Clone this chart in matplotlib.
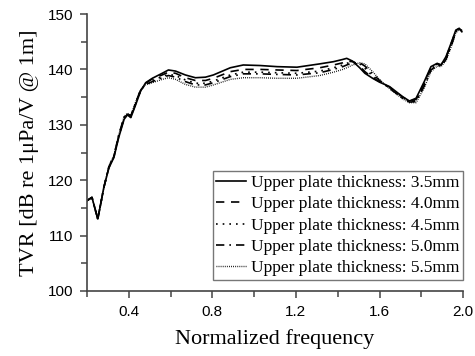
import matplotlib
matplotlib.use("Agg")
import matplotlib.pyplot as plt
from matplotlib.ticker import MultipleLocator

freq = [0.20, 0.224, 0.252, 0.281, 0.305, 0.329, 0.352, 0.378, 0.394, 0.41, 0.433, 0.457,
        0.481, 0.513, 0.56, 0.59, 0.624, 0.671, 0.719, 0.767, 0.805, 0.886, 0.948, 1.03,
        1.11, 1.205, 1.314, 1.38, 1.424, 1.443, 1.471, 1.505, 1.53, 1.567, 1.60, 1.648,
        1.71, 1.743, 1.775, 1.814, 1.846, 1.876, 1.894, 1.918, 1.948, 1.965, 1.981, 1.994]

tvr_35 = [116.3, 116.9, 113.0, 118.7, 122.2, 124.1, 127.7, 131.0, 131.8, 131.3, 133.6, 136.1,
          137.6, 138.4, 139.3, 139.9, 139.7, 139.0, 138.5, 138.6, 139.0, 140.3, 140.8, 140.7,
          140.5, 140.4, 141.0, 141.4, 141.8, 142.0, 141.5, 140.3, 139.3, 138.4, 137.7, 136.9,
          135.1, 134.3, 134.8, 137.8, 140.5, 141.1, 140.8, 142.3, 145.3, 147.1, 147.4, 146.8]
tvr_40 = [116.3, 116.9, 113.0, 118.7, 122.3, 124.2, 127.9, 131.2, 131.9, 131.4, 133.8, 136.2,
          137.5, 138.3, 139.0, 139.5, 139.3, 138.5, 138.0, 138.0, 138.4, 139.6, 140.0, 140.0,
          139.9, 139.8, 140.3, 140.8, 141.2, 141.5, 141.4, 140.6, 139.6, 138.5, 137.8, 136.8,
          135.0, 134.3, 134.6, 137.5, 140.3, 141.0, 140.8, 142.1, 145.2, 147.0, 147.4, 146.9]
tvr_45 = [116.3, 116.9, 113.0, 118.7, 122.4, 124.3, 128.0, 131.3, 132.0, 131.5, 133.9, 136.2,
          137.4, 138.0, 138.7, 139.1, 138.9, 138.1, 137.5, 137.5, 137.9, 139.0, 139.5, 139.5,
          139.4, 139.3, 139.7, 140.3, 140.8, 141.1, 141.4, 141.0, 140.2, 138.8, 137.9, 136.7,
          134.9, 134.2, 134.4, 137.2, 140.1, 140.9, 140.7, 142.0, 145.0, 146.9, 147.3, 147.0]
tvr_50 = [116.3, 116.9, 113.0, 118.7, 122.4, 124.4, 128.1, 131.4, 132.0, 131.6, 134.0, 136.3,
          137.3, 137.8, 138.5, 138.9, 138.6, 137.8, 137.2, 137.2, 137.6, 138.7, 139.2, 139.2,
          139.1, 139.0, 139.4, 140.0, 140.5, 140.8, 141.2, 141.2, 140.6, 139.2, 138.0, 136.6,
          134.8, 134.1, 134.2, 137.0, 139.9, 140.8, 140.6, 141.8, 144.8, 146.8, 147.3, 147.0]
tvr_55 = [116.3, 116.9, 113.0, 118.7, 122.5, 124.5, 128.2, 131.5, 132.1, 131.7, 134.1, 136.3,
          137.2, 137.6, 138.2, 138.5, 138.2, 137.3, 136.8, 136.8, 137.2, 138.2, 138.5, 138.5,
          138.4, 138.4, 138.9, 139.5, 140.0, 140.3, 140.8, 141.2, 141.0, 139.6, 138.2, 136.5,
          134.7, 134.0, 134.0, 136.7, 139.6, 140.6, 140.5, 141.6, 144.6, 146.6, 147.2, 147.1]

labels = ["Upper plate thickness: 3.5mm", "Upper plate thickness: 4.0mm",
          "Upper plate thickness: 4.5mm", "Upper plate thickness: 5.0mm",
          "Upper plate thickness: 5.5mm"]
series = [tvr_35, tvr_40, tvr_45, tvr_50, tvr_55]
styles = [dict(ls="-", lw=1.2),
          dict(ls=(0, (5, 4)), lw=1.2),
          dict(ls=(0, (1, 3)), lw=1.2),
          dict(ls=(0, (5, 3, 1, 3)), lw=1.2),
          dict(ls=(0, (0.6, 0.9)), lw=1.0)]

fig = plt.figure(figsize=(4.75, 3.56), dpi=100)
ax = fig.add_axes([0.183, 0.1826, 0.792, 0.778])

for vals, lab, st in reversed(list(zip(series, labels, styles))):
    ax.plot(freq, vals, color="black", label=lab, **st)

ax.set_xlim(0.2, 2.0)
ax.set_ylim(100, 150)
ax.xaxis.set_major_locator(MultipleLocator(0.4))
ax.xaxis.set_minor_locator(MultipleLocator(0.2))
ax.yaxis.set_major_locator(MultipleLocator(10))
ax.yaxis.set_minor_locator(MultipleLocator(5))
ax.set_xticks([0.4, 0.8, 1.2, 1.6, 2.0])

for s in ["top", "right"]:
    ax.spines[s].set_visible(False)
for s in ["left", "bottom"]:
    ax.spines[s].set_color("#444444")
    ax.spines[s].set_linewidth(1.2)

ax.tick_params(which="major", direction="out", length=5, width=1.1, color="#444444",
               labelsize=11, pad=5)
ax.tick_params(which="minor", direction="out", length=4, width=1.1, color="#444444")
for t in ax.get_xticklabels() + ax.get_yticklabels():
    t.set_family("Liberation Sans")

ax.set_xlabel("Normalized frequency", family="Liberation Serif", fontsize=16, labelpad=7)
ax.set_ylabel("TVR [dB re 1\u03bcPa/V @ 1m]", family="Liberation Serif", fontsize=16, labelpad=6)

handles, labs = ax.get_legend_handles_labels()
leg = ax.legend(handles[::-1], labs[::-1], loc="lower right", bbox_to_anchor=(1.0, 0.04),
                prop={"family": "Liberation Serif", "size": 12.5}, frameon=True, fancybox=False,
                handlelength=1.7, handletextpad=0.3, borderpad=0.2, labelspacing=0.3,
                borderaxespad=0.0)
leg.get_frame().set_edgecolor("#555555")
leg.get_frame().set_linewidth(1.0)

fig.savefig("out.png", dpi=100)
